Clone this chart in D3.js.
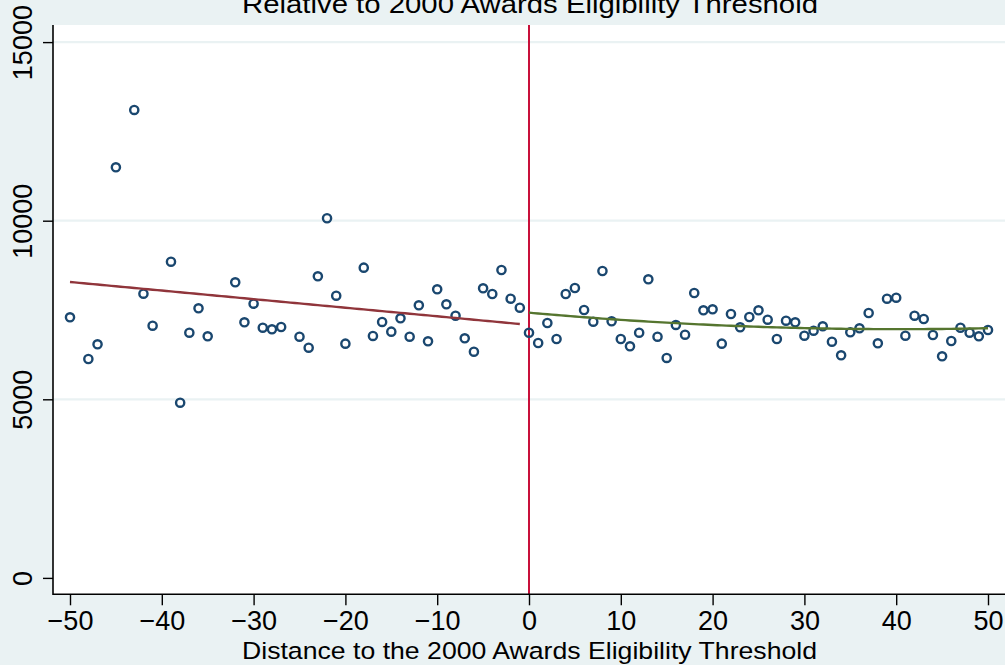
<!DOCTYPE html>
<html>
<head>
<meta charset="utf-8">
<script src="https://cdn.jsdelivr.net/npm/d3@7/dist/d3.min.js"></script>
<style>
  html, body { margin: 0; padding: 0; background: #eaf2f3; }
  svg { display: block; }
  text { font-family: "Liberation Sans", Arial, Helvetica, sans-serif; fill: #000; }
</style>
</head>
<body>
<svg id="chart" width="1005" height="665"></svg>
<script>
// Binned means by distance to the eligibility threshold
const leftX = [-50, -48, -47, -45, -43, -42, -41, -39, -38, -37, -36, -35, -32, -31, -30, -29, -28, -27,
               -25, -24, -23, -22, -21, -20, -18, -17, -16, -15, -14, -13, -12, -11, -10, -9, -8, -7,
               -6, -5, -4, -3, -2, -1];
const leftY = [7296, 6128, 6540, 11495, 13100, 7957, 7061, 8852, 4905, 6865, 7548, 6764, 8276, 7156, 7677, 7005, 6960, 7024,
               6753, 6445, 8444, 10068, 7901, 6558, 8686, 6773, 7165, 6894, 7268, 6753, 7632, 6624, 8080, 7660, 7341, 6708,
               6333, 8108, 7948, 8620, 7817, 7564];
const rightX = [0, 1, 2, 3, 4, 5, 6, 7, 8, 9, 10, 11, 12, 13, 14, 15, 16, 17, 18, 19, 20, 21, 22, 23, 24, 25,
                26, 27, 28, 29, 30, 31, 32, 33, 34, 35, 36, 37, 38, 39, 40, 41, 42, 43, 44, 45, 46, 47, 48, 49, 50];
const rightY = [6865, 6576, 7136, 6688, 7948, 8116, 7500, 7173, 8592, 7184, 6688, 6484, 6865, 8360, 6753, 6157, 7081, 6809, 7976, 7492, 7520, 6558, 7388, 7016, 7304, 7492,
                7229, 6688, 7201, 7156, 6781, 6921, 7044, 6613, 6232, 6876, 6988, 7416, 6568, 7817, 7845, 6781, 7341, 7248, 6800, 6204, 6632, 7005, 6865, 6764, 6940];

// Fitted polynomials on each side of the threshold (constant, linear, quadratic terms)
const leftFitCoef = [7084, -24.0];
const rightFitCoef = [7425, -22.9, 0.284];
const leftFitRange = [-50, -1];
const rightFitRange = [0, 50];

const xTicks = [-50, -40, -30, -20, -10, 0, 10, 20, 30, 40, 50];
const yTicks = [0, 5000, 10000, 15000];
const threshold = 0;
const titleText = "Relative to 2000 Awards Eligibility Threshold";
const xTitleText = "Distance to the 2000 Awards Eligibility Threshold";

const W = 1005, H = 665;
const plot = { left: 53, right: 1010, top: 25, bottom: 594.3 };

const x = d3.scaleLinear().domain([-50, 50]).range([70, 988]);
const y = d3.scaleLinear().domain([0, 15000]).range([577.9, 42.1]);

const svg = d3.select("#chart");

// Background and plot region
svg.append("rect").attr("width", W).attr("height", H).attr("fill", "#eaf2f3");
svg.append("rect")
  .attr("x", plot.left).attr("y", plot.top)
  .attr("width", plot.right - plot.left).attr("height", plot.bottom - plot.top)
  .attr("fill", "#ffffff");

// Horizontal grid lines
svg.append("g").selectAll("line")
  .data(yTicks.filter(v => v > 0))
  .join("line")
  .attr("x1", plot.left).attr("x2", plot.right)
  .attr("y1", d => y(d)).attr("y2", d => y(d))
  .attr("stroke", "#eaf2f3").attr("stroke-width", 2.2);

// Threshold line
svg.append("line")
  .attr("x1", x(threshold)).attr("x2", x(threshold))
  .attr("y1", plot.top).attr("y2", plot.bottom)
  .attr("stroke", "#c8103a").attr("stroke-width", 2);

// Scatter of bin means
const pts = leftX.map((d, i) => [d, leftY[i]]).concat(rightX.map((d, i) => [d, rightY[i]]));
svg.append("g").selectAll("circle")
  .data(pts)
  .join("circle")
  .attr("cx", d => x(d[0])).attr("cy", d => y(d[1]))
  .attr("r", 4.1)
  .attr("fill", "none")
  .attr("stroke", "#1a476f").attr("stroke-width", 2.4);

// Fit curves
const poly = coef => xv => coef.reduce((s, c, i) => s + c * Math.pow(xv, i), 0);
const line = d3.line().x(d => x(d[0])).y(d => y(d[1]));
function drawFit(coef, range, color) {
  const f = poly(coef);
  const grid = d3.range(range[0], range[1] + 0.001, 0.5);
  svg.append("path")
    .attr("d", line(grid.map(v => [v, f(v)])))
    .attr("fill", "none").attr("stroke", color).attr("stroke-width", 2.4);
}
drawFit(leftFitCoef, leftFitRange, "#90353b");
drawFit(rightFitCoef, rightFitRange, "#55752f");

// Axes
const xAxis = svg.append("g")
  .attr("transform", `translate(0,${plot.bottom})`)
  .call(d3.axisBottom(x).tickValues(xTicks).tickSize(11).tickPadding(3));
const yAxis = svg.append("g")
  .attr("transform", `translate(${plot.left},0)`)
  .call(d3.axisLeft(y).tickValues(yTicks).tickFormat(d3.format("d")).tickSize(10).tickPadding(3));

[xAxis, yAxis].forEach(g => {
  g.select(".domain").remove();
  g.selectAll(".tick line").attr("stroke", "#000").attr("stroke-width", 1.4);
});
xAxis.selectAll(".tick text")
  .attr("font-size", 27).attr("y", 36).attr("dy", 0)
  .attr("font-family", "Liberation Sans, Arial, sans-serif");
yAxis.selectAll(".tick text")
  .attr("font-size", 27)
  .attr("text-anchor", "middle")
  .attr("x", 0).attr("y", 0).attr("dy", 0)
  .attr("transform", `translate(${32 - plot.left},0) rotate(-90)`);

// Axis lines
svg.append("line")
  .attr("x1", plot.left).attr("x2", plot.left)
  .attr("y1", plot.top).attr("y2", plot.bottom + 0.7)
  .attr("stroke", "#000").attr("stroke-width", 1.6);
svg.append("line")
  .attr("x1", plot.left).attr("x2", W)
  .attr("y1", plot.bottom).attr("y2", plot.bottom)
  .attr("stroke", "#000").attr("stroke-width", 1.6);

// Titles
svg.append("text")
  .attr("x", 530).attr("y", 12.5)
  .attr("text-anchor", "middle")
  .attr("font-size", 26)
  .attr("textLength", 576).attr("lengthAdjust", "spacingAndGlyphs")
  .text(titleText);
svg.append("text")
  .attr("x", 529.5).attr("y", 659)
  .attr("text-anchor", "middle")
  .attr("font-size", 24.5)
  .attr("textLength", 575).attr("lengthAdjust", "spacingAndGlyphs")
  .text(xTitleText);
</script>
</body>
</html>
